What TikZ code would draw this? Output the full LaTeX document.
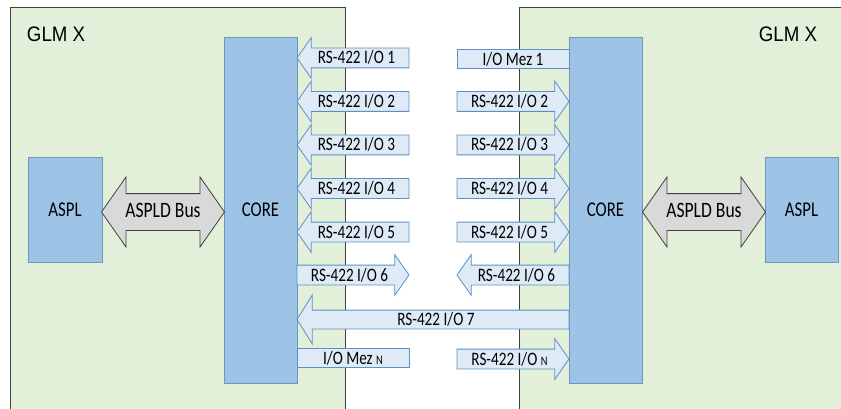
\documentclass[tikz,border=0pt]{standalone}
\usepackage{graphicx}
\usepackage{fontspec}
\setmainfont{Carlito}
\newfontfamily\glmfont{Liberation Sans}
\usetikzlibrary{shapes.arrows}

\definecolor{glmgreen}{HTML}{E2EFD9}
\definecolor{coreblue}{HTML}{9DC3E6}
\definecolor{coreline}{HTML}{7394B8}
\definecolor{iofill}{HTML}{DEEBF7}
\definecolor{ioline}{HTML}{5E8FC4}
\definecolor{busgray}{HTML}{D9D9D9}

\newcommand{\sq}[1]{\scalebox{0.8}[1]{#1}}
\newcommand{\smalln}{{\fontsize{13}{13}\selectfont N}}

\begin{document}
\begin{tikzpicture}[
    x=1pt, y=-1pt,
    every node/.style={inner sep=0pt, outer sep=0pt},
    board/.style={rectangle, draw=black!75, fill=glmgreen, line width=0.8pt},
    block/.style={rectangle, draw=coreline, fill=coreblue, line width=0.8pt, font=\fontsize{21}{21}\selectfont},
    ioarrow/.style={single arrow, draw=ioline, fill=iofill, line width=0.8pt,
        single arrow head extend=10.5pt, single arrow tip angle=110,
        minimum height=112pt, text height=14pt, text depth=2pt, inner ysep=1.5pt, inner xsep=0pt,
        font=\fontsize{19}{19}\selectfont},
    ioleft/.style={ioarrow, shape border rotate=180},
    iobox/.style={rectangle, draw=ioline, fill=iofill, line width=0.8pt,
        minimum width=112pt, minimum height=19pt, font=\fontsize{19}{19}\selectfont},
    bus/.style={double arrow, draw=black!75, fill=busgray, line width=0.8pt,
        double arrow head extend=16.5pt, double arrow tip angle=110,
        minimum height=123pt, text height=15pt, text depth=4pt, inner ysep=8.5pt, inner xsep=0pt,
        font=\fontsize{22}{22}\selectfont}
]
    \path[use as bounding box, clip] (0,0) rectangle (841,409);

    % the two boards
    \node[board, anchor=north west, minimum width=335pt, minimum height=420pt] (glmL) at (10,7) {};
    \node[board, anchor=north west, minimum width=340pt, minimum height=420pt] (glmR) at (519,7) {};
    \node[anchor=base west, font=\glmfont\fontsize{21}{21}\selectfont] (nameL) at (27,41.5) {\scalebox{0.89}[1]{GLM X}};
    \node[anchor=base east, font=\glmfont\fontsize{21}{21}\selectfont] (nameR) at (817,41.5) {\scalebox{0.89}[1]{GLM X}};

    % cores and ASPLs
    \node[block, minimum width=73pt, minimum height=346pt] (coreL) at (260.5,210) {\sq{CORE}};
    \node[block, minimum width=73pt, minimum height=346pt] (coreR) at (605.5,210) {\sq{CORE}};
    \node[block, minimum width=74pt, minimum height=105pt] (asplL) at (65,209.5) {\sq{ASPL}};
    \node[block, minimum width=73pt, minimum height=105pt] (asplR) at (801.5,209.5) {\sq{ASPL}};

    \node[bus] (busL) at (163,212) {\sq{ASPLD Bus}};
    \node[bus] (busR) at (704,212) {\sq{ASPLD Bus}};

    % left side links
    \node[ioleft, anchor=tip] (l1) at (297,58) {\sq{RS-422 I/O 1}};
    \node[ioleft, anchor=tip] (l2) at (297,101.5) {\sq{RS-422 I/O 2}};
    \node[ioleft, anchor=tip] (l3) at (297,145) {\sq{RS-422 I/O 3}};
    \node[ioleft, anchor=tip] (l4) at (297,188.5) {\sq{RS-422 I/O 4}};
    \node[ioleft, anchor=tip] (l5) at (297,232) {\sq{RS-422 I/O 5}};
    \node[ioarrow, anchor=tail] (l6) at (297,275) {\sq{RS-422 I/O 6}};
    \node[iobox, anchor=west] (lN) at (297,358) {\sq{I/O Mez \smalln}};

    % right side links
    \node[iobox, anchor=east] (r1) at (569,59) {\sq{I/O Mez 1}};
    \node[ioarrow, anchor=tip] (r2) at (569,101.5) {\sq{RS-422 I/O 2}};
    \node[ioarrow, anchor=tip] (r3) at (569,145) {\sq{RS-422 I/O 3}};
    \node[ioarrow, anchor=tip] (r4) at (569,188.5) {\sq{RS-422 I/O 4}};
    \node[ioarrow, anchor=tip] (r5) at (569,232) {\sq{RS-422 I/O 5}};
    \node[ioleft, anchor=tail] (r6) at (569,275) {\sq{RS-422 I/O 6}};
    \node[ioarrow, anchor=tip] (rN) at (569,359) {\sq{RS-422 I/O \smalln}};

    % shared link
    \node[ioleft, anchor=tip, minimum height=272pt, single arrow head extend=15pt,
        single arrow tip angle=116, text height=14pt, text depth=2pt, inner ysep=1pt] (l7) at (297,319.5) {\sq{RS-422 I/O 7}};
\end{tikzpicture}
\end{document}
